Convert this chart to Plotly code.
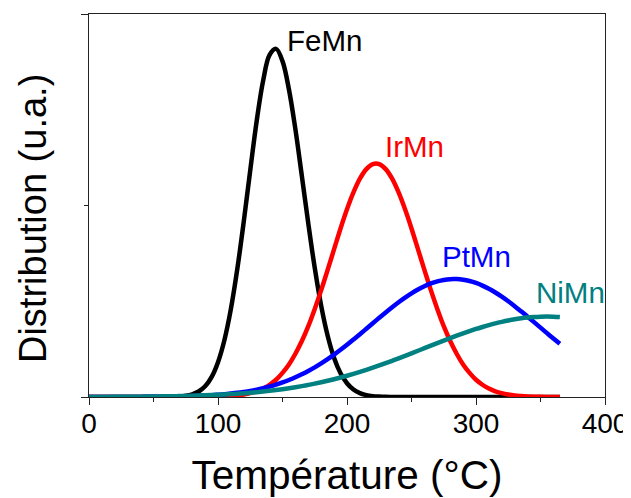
import plotly.graph_objects as go

temperature = list(range(0, 370, 5))  # 0 ... 365 °C

femn = [0] * 12 + [
    0.0002, 0.0005, 0.0013, 0.0032, 0.007, 0.0144, 0.028, 0.052, 0.091, 0.149,
    0.230, 0.335, 0.459, 0.592, 0.721, 0.826, 0.893, 0.909, 0.877, 0.803,
    0.699, 0.577, 0.453, 0.337, 0.238, 0.160, 0.102, 0.062, 0.036, 0.0195,
    0.010, 0.005, 0.0023, 0.001, 0.0004, 0.0002] + [0] * 26

irmn = [0] * 15 + [
    0.0001, 0.0001, 0.0002, 0.0003, 0.0005, 0.0009, 0.0016, 0.0026, 0.004, 0.0065,
    0.010, 0.015, 0.022, 0.032, 0.045, 0.063, 0.085, 0.113, 0.146, 0.185,
    0.230, 0.279, 0.332, 0.386, 0.440, 0.490, 0.534, 0.570, 0.595, 0.608,
    0.608, 0.595, 0.570, 0.534, 0.490, 0.440, 0.386, 0.332, 0.279, 0.230,
    0.185, 0.146, 0.113, 0.085, 0.063, 0.045, 0.032, 0.022, 0.015, 0.010,
    0.0065, 0.004, 0.0026, 0.0016, 0.0009, 0.0005, 0.0003, 0.0002, 0.0001]

ptmn = [
    0.00002, 0.00003, 0.00005, 0.00006, 0.00009, 0.00012, 0.00016, 0.0002, 0.0003, 0.0004,
    0.0005, 0.0007, 0.0009, 0.0011, 0.0014, 0.0018, 0.0023, 0.003, 0.0038, 0.0047,
    0.0059, 0.0072, 0.0089, 0.0109, 0.0133, 0.016, 0.0193, 0.0231, 0.0274, 0.0323,
    0.038, 0.0443, 0.0514, 0.0593, 0.068, 0.0775, 0.0878, 0.0988, 0.1107, 0.1232,
    0.1363, 0.1499, 0.1639, 0.1782, 0.1925, 0.2069, 0.2209, 0.2345, 0.2475, 0.2596,
    0.2707, 0.2807, 0.2893, 0.2964, 0.3019, 0.3057, 0.3077, 0.3078, 0.3062, 0.3028,
    0.2977, 0.2908, 0.2825, 0.2729, 0.2619, 0.25, 0.2372, 0.2236, 0.2097, 0.1954,
    0.1811, 0.1668, 0.1527, 0.139]

nimn = [
    0.0002, 0.0002, 0.0003, 0.0003, 0.0004, 0.0005, 0.0006, 0.0007, 0.0009, 0.001,
    0.0012, 0.0014, 0.0017, 0.002, 0.0023, 0.0027, 0.0032, 0.0037, 0.0043, 0.005,
    0.0057, 0.0066, 0.0076, 0.0086, 0.0098, 0.0112, 0.0127, 0.0144, 0.0162, 0.0182,
    0.0205, 0.0229, 0.0255, 0.0284, 0.0316, 0.0349, 0.0385, 0.0424, 0.0465, 0.0509,
    0.0555, 0.0604, 0.0655, 0.0709, 0.0765, 0.0823, 0.0884, 0.0946, 0.1009, 0.1074,
    0.114, 0.1207, 0.1274, 0.1341, 0.1407, 0.1473, 0.1538, 0.1601, 0.1662, 0.172,
    0.1776, 0.1828, 0.1877, 0.1922, 0.1962, 0.1998, 0.2029, 0.2054, 0.2074, 0.2088,
    0.2097, 0.21, 0.2097, 0.2088]

series_names = ["FeMn", "IrMn", "PtMn", "NiMn"]
series_values = [femn, irmn, ptmn, nimn]
series_colors = ["#000000", "#ff0000", "#0000ff", "#008080"]

# label anchor positions (data coordinates)
label_x = [182.6, 252.5, 300.6, 373.2]
label_y = [0.931, 0.653, 0.367, 0.272]

x_ticks = [0, 100, 200, 300, 400]
x_tick_labels = ["0", "100", "200", "300", "400"]

FONT = "Arial, 'Liberation Sans', sans-serif"

fig = go.Figure()
for name, vals, col in zip(series_names, series_values, series_colors):
    fig.add_trace(go.Scatter(
        x=temperature, y=vals, mode="lines", name=name,
        line=dict(color=col, width=4.5, shape="spline", smoothing=1.0),
        showlegend=False,
    ))

for name, lx, ly, col in zip(series_names, label_x, label_y, series_colors):
    fig.add_annotation(x=lx, y=ly, xref="x", yref="y", text=name, showarrow=False,
                       font=dict(family=FONT, size=29.5, color=col),
                       xanchor="center", yanchor="middle")

# y-axis title as rotated text
fig.add_annotation(x=-0.1095, y=0.466, xref="paper", yref="paper",
                   text="Distribution (u.a.)", textangle=-90, showarrow=False,
                   font=dict(family=FONT, size=38, color="black"),
                   xanchor="center", yanchor="middle")

# the page body adds an 8 px offset; the figure is sized to fit the window
fig.update_layout(
    width=623, height=490,
    margin=dict(l=81, r=26, t=6, b=101),
    plot_bgcolor="white", paper_bgcolor="white",
    font=dict(family=FONT, color="black"),
)

fig.update_xaxes(
    range=[0, 400], tickmode="array", tickvals=x_ticks, ticktext=x_tick_labels,
    ticks="outside", ticklen=7, tickwidth=1.3, tickcolor="#222",
    minor=dict(dtick=50, ticks="outside", ticklen=4, tickwidth=1.3, tickcolor="#222"),
    showline=True, linecolor="#222", linewidth=1.3, mirror=True,
    showgrid=False, zeroline=False, automargin=False,
    ticklabelstandoff=-6,
    tickfont=dict(family=FONT, size=28, color="black"),
    title=dict(text="Température (°C)", font=dict(family=FONT, size=40.5, color="black"), standoff=25),
)

fig.update_yaxes(
    range=[0, 1], tickmode="array", tickvals=[0, 1], showticklabels=False,
    ticks="outside", ticklen=7, tickwidth=1.3, tickcolor="#222",
    minor=dict(tickvals=[0.5], ticks="outside", ticklen=4, tickwidth=1.3, tickcolor="#222"),
    showline=True, linecolor="#222", linewidth=1.3, mirror=True,
    showgrid=False, zeroline=False, automargin=False,
)

fig.write_html("out.html")
